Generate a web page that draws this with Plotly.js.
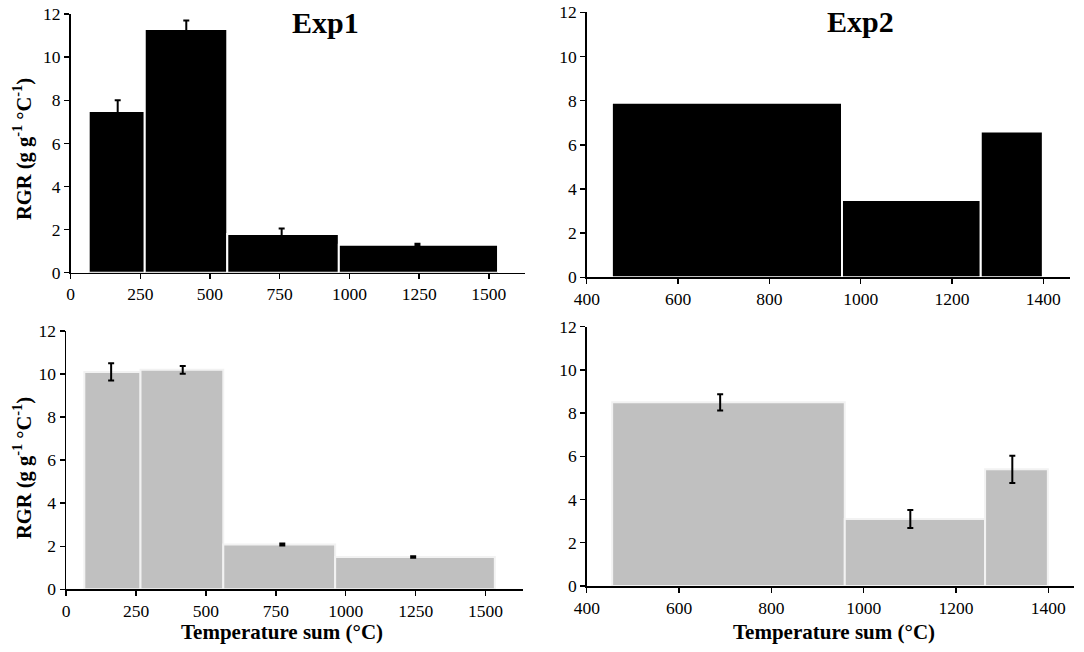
<!DOCTYPE html>
<html>
<head>
<meta charset="utf-8">
<script src="https://cdn.plot.ly/plotly-3.0.1.min.js"></script>
<style>html,body{margin:0;padding:0;background:#fff;}#chart{width:1084px;height:652px;}</style>
</head>
<body>
<div id="chart"></div>
<script>
// Temperature-sum interval boundaries (°C)
const exp1Bounds = [65, 266, 562, 962, 1533];
const exp2Bounds = [455, 959, 1263, 1399];

// Top row (black bars)
const rgrExp1Top = [7.5, 11.3, 1.8, 1.3];
const errExp1Top = [0.5, 0.4, 0.25, 0.04];
const errXExp1Top = [169, 415, 757, 1244];
const rgrExp2Top = [7.9, 3.5, 6.6];

// Bottom row (grey bars)
const rgrExp1Bot = [10.1, 10.2, 2.08, 1.5];
const errExp1Bot = [0.4, 0.18, 0.05, 0.04];
const errXExp1Bot = [161, 417, 773, 1241];
const rgrExp2Bot = [8.5, 3.1, 5.4];
const errExp2Bot = [0.38, 0.42, 0.63];
const errXExp2Bot = [689, 1101, 1322];

const exp1Ticks = [0, 250, 500, 750, 1000, 1250, 1500];
const exp2Ticks = [400, 600, 800, 1000, 1200, 1400];
const yTicks = [0, 2, 4, 6, 8, 10, 12];

const panelTitles = ['Exp1', 'Exp2'];
const yTitle = 'RGR (g g<sup>-1</sup> °C<sup>-1</sup>)';
const xTitle = 'Temperature sum (°C)';

function centers(b){ const c=[]; for(let i=0;i<b.length-1;i++) c.push((b[i]+b[i+1])/2); return c; }
function widths(b){ const w=[]; for(let i=0;i<b.length-1;i++) w.push(b[i+1]-b[i]); return w; }

function barTrace(bounds, vals, color, lineColor, xa, ya){
  return {type:'bar', x:centers(bounds), y:vals, width:widths(bounds),
    marker:{color:color, line:{color:lineColor, width:2}},
    xaxis:xa, yaxis:ya, showlegend:false, hoverinfo:'x+y'};
}
function errTrace(xs, vals, errs, xa, ya){
  return {type:'scatter', mode:'markers', x:xs, y:vals,
    marker:{size:1, color:'rgba(0,0,0,0)'},
    error_y:{type:'data', array:errs, visible:true, color:'#000', thickness:2, width:3},
    xaxis:xa, yaxis:ya, showlegend:false, hoverinfo:'skip'};
}

const data = [
  barTrace(exp1Bounds, rgrExp1Top, '#000000', '#ffffff', 'x', 'y'),
  errTrace(errXExp1Top, rgrExp1Top, errExp1Top, 'x', 'y'),
  barTrace(exp2Bounds, rgrExp2Top, '#000000', '#ffffff', 'x2', 'y2'),
  barTrace(exp1Bounds, rgrExp1Bot, '#c0c0c0', '#f2f2f2', 'x3', 'y3'),
  errTrace(errXExp1Bot, rgrExp1Bot, errExp1Bot, 'x3', 'y3'),
  barTrace(exp2Bounds, rgrExp2Bot, '#c0c0c0', '#f2f2f2', 'x4', 'y4'),
  errTrace(errXExp2Bot, rgrExp2Bot, errExp2Bot, 'x4', 'y4')
];

const serif = 'Liberation Serif, Times New Roman, serif';
const tickFont = {family: serif, size: 17.5, color: '#000'};
const xTitleFont = {family: serif, size: 21, color: '#000', weight: 'bold'};
const yTitleFont = {family: serif, size: 20.5, color: '#000', weight: 'bold'};
const expFont = {family: serif, size: 30, color: '#000', weight: 'bold'};

function xAxis(domain, range, ticks, anchor){
  return {domain:domain, range:range, tickvals:ticks, ticktext:ticks.map(String),
    showline:true, linecolor:'#000', linewidth:1.6, ticks:'outside', ticklen:5, tickwidth:1.4, tickcolor:'#000',
    showgrid:false, zeroline:false, tickfont:tickFont, anchor:anchor, fixedrange:true};
}
function yAxis(domain, anchor){
  return {domain:domain, range:[0,12], tickvals:yTicks, ticktext:yTicks.map(String),
    showline:true, linecolor:'#000', linewidth:1.6, ticks:'outside', ticklen:5, tickwidth:1.4, tickcolor:'#000',
    showgrid:false, zeroline:false, tickfont:tickFont, anchor:anchor, fixedrange:true};
}
function label(text, px, py, font, angle){
  return {text:text, xref:'paper', yref:'paper', x:px/1084, y:1-py/652, xanchor:'center', yanchor:'middle',
    showarrow:false, font:font, textangle:angle||0};
}

const layout = {
  width:1084, height:652,
  margin:{l:0, r:0, t:0, b:0},
  paper_bgcolor:'#fff', plot_bgcolor:'#fff',
  barmode:'overlay',
  xaxis:  xAxis([0.0651, 0.4844], [0, 1630], exp1Ticks, 'y'),
  yaxis:  yAxis([0.5817, 0.9785], 'x'),
  xaxis2: xAxis([0.5413, 0.9873], [400, 1459], exp2Ticks, 'y2'),
  yaxis2: yAxis([0.5747, 0.9811], 'x2'),
  xaxis3: xAxis([0.061, 0.4828], [0, 1635], exp1Ticks, 'y3'),
  yaxis3: yAxis([0.0962, 0.4923], 'x3'),
  xaxis4: xAxis([0.5413, 0.9905], [400, 1455], exp2Ticks, 'y4'),
  yaxis4: yAxis([0.1012, 0.4989], 'x4'),
  annotations: [
    label(panelTitles[0], 325, 22, expFont),
    label(panelTitles[1], 860.4, 21, expFont),
    label(yTitle, 22, 149, yTitleFont, -90),
    label(yTitle, 22, 468, yTitleFont, -90),
    label(xTitle, 282.4, 632, xTitleFont),
    label(xTitle, 834.4, 632, xTitleFont)
  ]
};

Plotly.newPlot('chart', data, layout, {displayModeBar:false, staticPlot:true});
</script>
</body>
</html>
